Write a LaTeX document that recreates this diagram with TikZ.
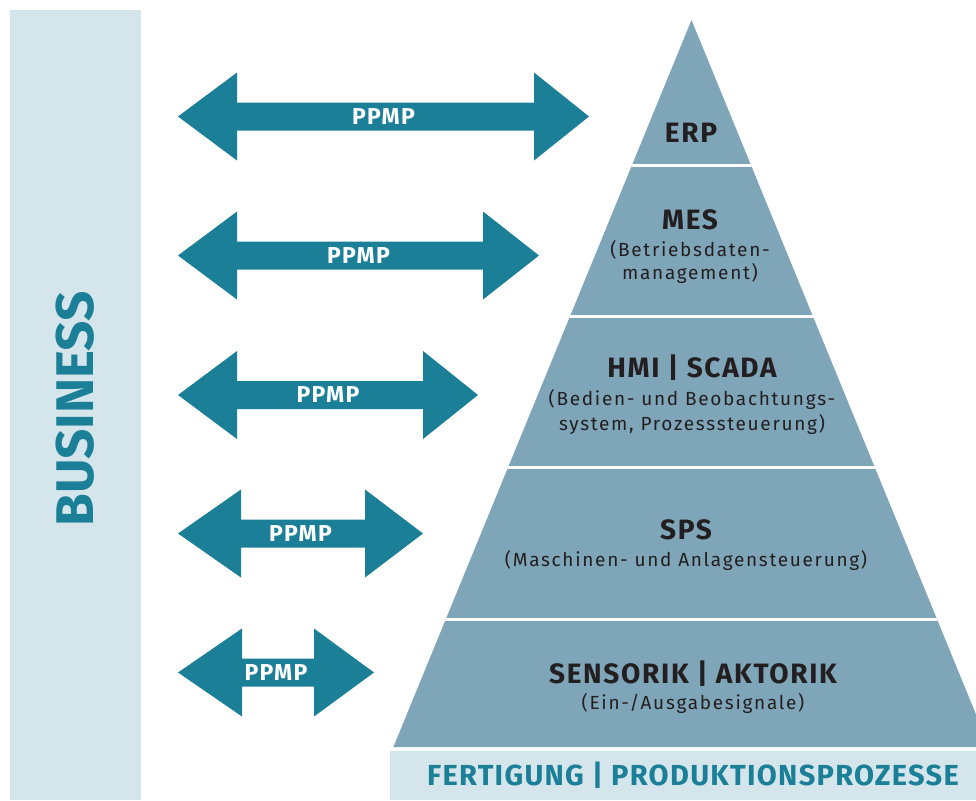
\documentclass[tikz,border=0pt]{standalone}
\usepackage{fontspec}
\setmainfont{Fira Sans}
\newfontfamily\subfont[LetterSpace=9]{Fira Sans}
\newfontfamily\titlefont[LetterSpace=6]{Fira Sans}
\newfontfamily\barfont[LetterSpace=4.5]{Fira Sans}
\definecolor{arrowteal}{HTML}{1A7F97}
\definecolor{pyrblue}{HTML}{7FA5B9}
\definecolor{lightbar}{HTML}{D4E6EC}
\definecolor{darktext}{HTML}{231F20}
\tikzset{
  ppmp/.style={text=white, font=\titlefont\bfseries\fontsize{23}{23}\selectfont, inner sep=0pt},
  layertitle/.style={text=darktext, font=\titlefont\bfseries\fontsize{28}{28}\selectfont, anchor=base, inner sep=0pt},
  layersub/.style={text=darktext, font=\subfont\fontsize{19}{19}\selectfont, anchor=base, inner sep=0pt},
  bartext/.style={text=arrowteal, font=\barfont\bfseries\fontsize{29}{29}\selectfont, anchor=base, inner sep=0pt}
}
\newcommand\ppmparrow[5]{%
  \fill[arrowteal] (178,#2) -- (#3,#2-44) -- (#3,#2-14) -- (#4,#2-14) -- (#4,#2-44) -- (#5,#2)
    -- (#4,#2+44) -- (#4,#2+14) -- (#3,#2+14) -- (#3,#2+44) -- cycle;
  \node[ppmp] (#1) at ({(178+#5)/2},#2) {PPMP};}
\begin{document}
\begin{tikzpicture}[x=1pt,y=-1pt]
\useasboundingbox (0,0) rectangle (976,800);
% business bar
\fill[lightbar] (10,10) rectangle (141,800);
\node[bartext, rotate=90, font=\bfseries\fontsize{53}{53}\selectfont] (business) at (93.3,409) {BUSINESS};
% pyramid
\fill[pyrblue] (691.5,20) -- (393.4,747) -- (976,747) -- (976,714.4) -- cycle;
\begin{scope}
  \clip (691.5,20) -- (393.4,747) -- (976,747) -- (976,714.4) -- cycle;
  \foreach \yy in {165.5,316,467.5,619} {
    \draw[white, line width=3pt] (380,\yy) -- (976,\yy);
  }
\end{scope}
% bottom bar
\fill[lightbar] (390,751) rectangle (976,800);
\node[bartext] (fert) at (693,785.5) {FERTIGUNG | PRODUKTIONSPROZESSE};
% layer labels
\node[layertitle] (erp) at (691,142.7) {ERP};
\node[layertitle] (mes) at (690,229) {MES};
\node[layersub] (mes1) at (690,256) {(Betriebsdaten-};
\node[layersub] (mes2) at (690,279.5) {management)};
\node[layertitle] (hmi) at (692,377.3) {HMI | SCADA};
\node[layersub] (hmi1) at (692,405.5) {(Bedien- und Beobachtungs-};
\node[layersub] (hmi2) at (692,430.5) {system, Prozesssteuerung)};
\node[layertitle] (sps) at (686,539.3) {SPS};
\node[layersub] (sps1) at (686,566.7) {(Maschinen- und Anlagensteuerung)};
\node[layertitle] (sens) at (693,683.5) {SENSORIK | AKTORIK};
\node[layersub] (sens1) at (693,709.5) {(Ein-/Ausgabesignale)};
% arrows
\ppmparrow{a1}{116.5}{237}{534}{589}
\ppmparrow{a2}{255.5}{237}{483}{539}
\ppmparrow{a3}{395}{237}{423}{478}
\ppmparrow{a4}{533.5}{241}{365}{423}
\ppmparrow{a5}{672.5}{242}{314}{374}
\end{tikzpicture}
\end{document}
